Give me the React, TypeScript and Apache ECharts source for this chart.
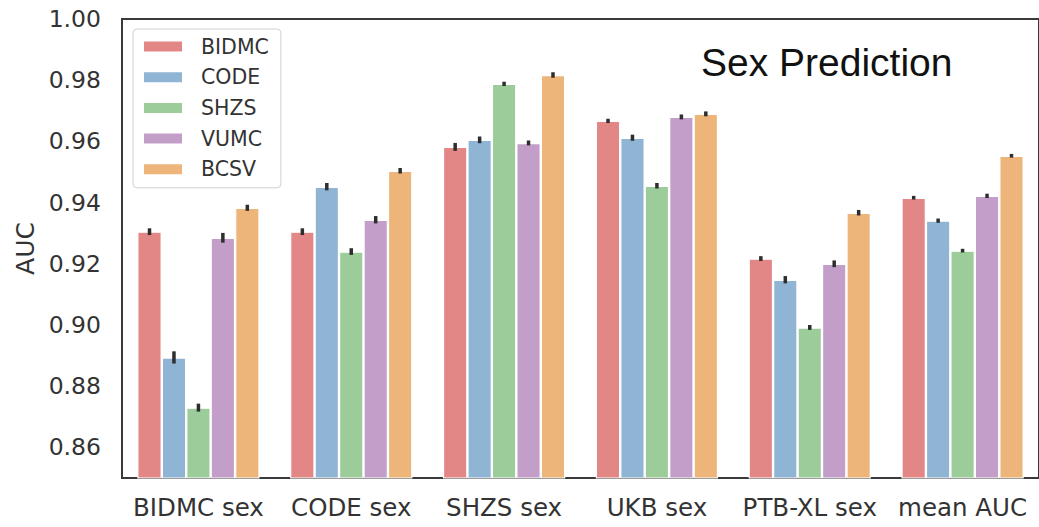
import React, { useEffect, useRef } from "react";
import * as echarts from "echarts";

const categories = ["BIDMC sex", "CODE sex", "SHZS sex", "UKB sex", "PTB-XL sex", "mean AUC"];
const seriesNames = ["BIDMC", "CODE", "SHZS", "VUMC", "BCSV"];
const colors = ["#e38686", "#8fb4d4", "#9ccc99", "#c29ec9", "#eeb57b"];

const bidmc = [0.9305, 0.9305, 0.9582, 0.9667, 0.9217, 0.9416];
const code = [0.8894, 0.9452, 0.9605, 0.9612, 0.9148, 0.9341];
const shzs = [0.873, 0.924, 0.9788, 0.9455, 0.8992, 0.9243];
const vumc = [0.9285, 0.9344, 0.9595, 0.968, 0.92, 0.9422];
const bcsv = [0.9383, 0.9504, 0.9817, 0.969, 0.9367, 0.9553];

const bidmcErr = [0.0011, 0.0011, 0.0013, 0.0007, 0.0008, 0.0006];
const codeErr = [0.002, 0.0012, 0.0011, 0.001, 0.0012, 0.0007];
const shzsErr = [0.0013, 0.0011, 0.0007, 0.0009, 0.0008, 0.0006];
const vumcErr = [0.0016, 0.0012, 0.0008, 0.0008, 0.0011, 0.0007];
const bcsvErr = [0.001, 0.0009, 0.0009, 0.0008, 0.0009, 0.0006];

const yTicks = [0.86, 0.88, 0.9, 0.92, 0.94, 0.96, 0.98, 1.0];

const values = [bidmc, code, shzs, vumc, bcsv];
const errs = [bidmcErr, codeErr, shzsErr, vumcErr, bcsvErr];

export default function App() {
  const ref = useRef<HTMLDivElement>(null);
  useEffect(() => {
    if (!ref.current) return;
    const chart = echarts.init(ref.current, null, { renderer: "svg" });
    const barSeries: any[] = seriesNames.map((name, s) => ({
      name,
      type: "bar",
      data: values[s],
      barGap: "0%",
      barCategoryGap: "20%",
      itemStyle: { color: colors[s], borderColor: "#ffffff", borderWidth: 1.2 },
      z: 2,
    }));
    const errSeries: any[] = seriesNames.map((name, s) => ({
      name: name + " error",
      type: "custom",
      z: 5,
      data: categories.map((c, i) => [i, values[s][i], errs[s][i]]),
      renderItem: (params: any, api: any) => {
        const idx = api.value(0);
        const v = api.value(1);
        const e = api.value(2);
        const w = api.size([1, 0])[0];
        const c = api.coord([idx, v]);
        const x = c[0] + (-0.4 + 0.16 * (s + 0.5)) * w;
        const top = api.coord([idx, v + e])[1];
        const bot = api.coord([idx, v - e])[1];
        return {
          type: "line",
          shape: { x1: x, y1: top, x2: x, y2: bot },
          style: { stroke: "#2e2e2e", lineWidth: 3.5, lineCap: "butt" },
        };
      },
    }));
    chart.setOption({
      animation: false,
      backgroundColor: "#ffffff",
      textStyle: { fontFamily: "DejaVu Sans" },
      title: {
        text: "Sex Prediction",
        left: 696,
        top: 38,
        textStyle: { fontFamily: "Liberation Sans", fontSize: 39, fontWeight: "normal", color: "#111" },
      },
      legend: {
        data: seriesNames,
        orient: "vertical",
        left: 133,
        top: 29,
        padding: [7, 12, 8, 9],
        itemWidth: 40,
        itemHeight: 12,
        itemGap: 9.7,
        icon: "rect",
        borderColor: "#d0d0d0",
        borderWidth: 1,
        borderRadius: 4,
        backgroundColor: "#ffffff",
        textStyle: { fontSize: 20.5, color: "#333", padding: [0, 0, 0, 13], fontFamily: "DejaVu Sans" },
      },
      grid: {
        left: 122,
        top: 19,
        width: 926,
        height: 459,
        show: true,
        borderColor: "#3a3a3a",
        borderWidth: 2,
        backgroundColor: "transparent",
      },
      xAxis: {
        type: "category",
        data: categories,
        axisLine: { show: false },
        axisTick: { show: false },
        axisLabel: { fontSize: 24.5, color: "#333", margin: 17, interval: 0 },
      },
      yAxis: {
        type: "value",
        min: 0.85,
        max: 1.0,
        name: "AUC",
        nameLocation: "middle",
        nameGap: 82,
        nameTextStyle: { fontSize: 25, color: "#333" },
        axisLine: { show: false },
        axisTick: { show: false },
        splitLine: { show: false },
        axisLabel: {
          fontSize: 23.5,
          color: "#333",
          margin: 21,
          customValues: yTicks,
          formatter: (v: number) => v.toFixed(2),
        },
      },
      series: [...barSeries, ...errSeries],
    });
    return () => chart.dispose();
  }, []);
  return (
    <div
      ref={ref}
      style={{ position: "fixed", left: 0, top: 0, width: 1039, height: 527 }}
    />
  );
}
